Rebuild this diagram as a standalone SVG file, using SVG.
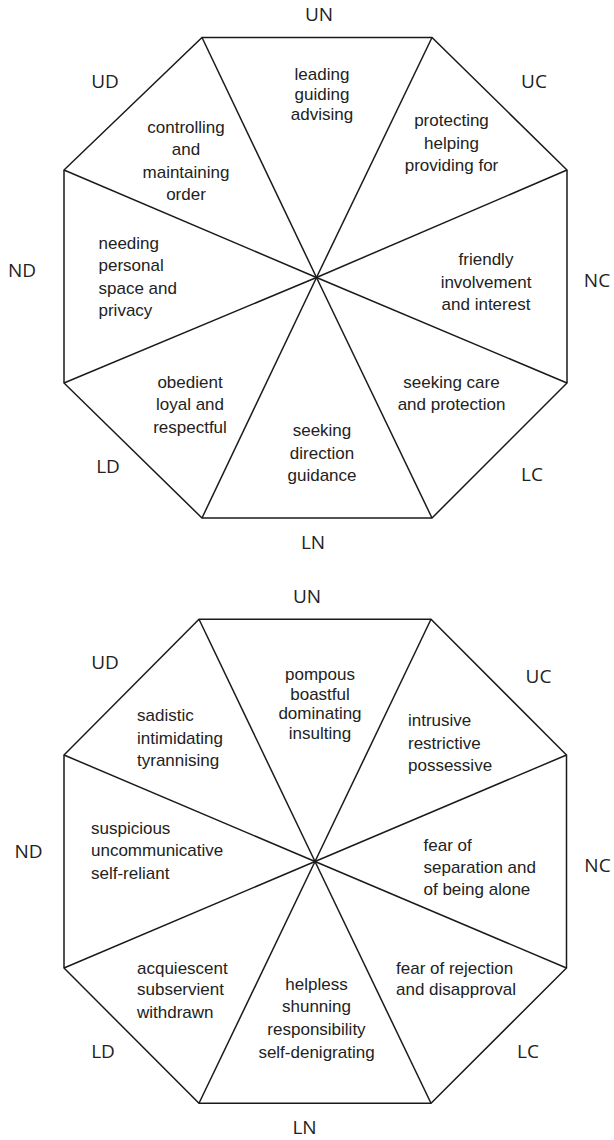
<svg xmlns="http://www.w3.org/2000/svg" width="614" height="1140" viewBox="0 0 614 1140">
<style>
.oct{fill:none;stroke:#1a1a1a;stroke-width:1.5;stroke-linejoin:miter}
.sp{stroke:#1a1a1a;stroke-width:1.5}
.t{font-family:"Liberation Sans",Arial,sans-serif;font-size:17px;fill:#222}
.c{text-anchor:middle}
.lb{font-family:"Open Sans","DejaVu Sans",sans-serif;font-size:19px;fill:#222;text-anchor:middle}
</style>
<rect width="614" height="1140" fill="#fff"/>
<g id="octagon-top">
<polygon class="oct" points="202,37.5 432,37.5 567,170 567,383 432,518 202,518 64,383 64,170"/>
</g>
<g id="connectors-top">
<line class="sp" x1="316.5" y1="277.5" x2="202" y2="37.5"/>
<line class="sp" x1="316.5" y1="277.5" x2="432" y2="37.5"/>
<line class="sp" x1="316.5" y1="277.5" x2="567" y2="170"/>
<line class="sp" x1="316.5" y1="277.5" x2="567" y2="383"/>
<line class="sp" x1="316.5" y1="277.5" x2="432" y2="518"/>
<line class="sp" x1="316.5" y1="277.5" x2="202" y2="518"/>
<line class="sp" x1="316.5" y1="277.5" x2="64" y2="383"/>
<line class="sp" x1="316.5" y1="277.5" x2="64" y2="170"/>
</g>
<g id="labels-top">
<text class="lb" x="319" y="21">UN</text>
<text class="lb" x="105" y="88">UD</text>
<text class="lb" x="534" y="88">UC</text>
<text class="lb" x="22" y="277">ND</text>
<text class="lb" x="597" y="287">NC</text>
<text class="lb" x="108" y="473">LD</text>
<text class="lb" x="532" y="481">LC</text>
<text class="lb" x="313" y="549">LN</text>
</g>
<g id="top-UN"><text class="t c" x="322"><tspan x="322" y="80">leading</tspan><tspan x="322" y="100">guiding</tspan><tspan x="322" y="119.5">advising</tspan></text></g>
<g id="top-UD"><text class="t c" x="186"><tspan x="186" y="132.5">controlling</tspan><tspan x="186" y="155">and</tspan><tspan x="186" y="177.5">maintaining</tspan><tspan x="186" y="200">order</tspan></text></g>
<g id="top-UC"><text class="t c" x="451.5"><tspan x="451.5" y="126">protecting</tspan><tspan x="451.5" y="148.5">helping</tspan><tspan x="451.5" y="171">providing for</tspan></text></g>
<g id="top-ND"><text class="t" x="98.5"><tspan x="98.5" y="248.5">needing</tspan><tspan x="98.5" y="271">personal</tspan><tspan x="98.5" y="293.5">space and</tspan><tspan x="98.5" y="316">privacy</tspan></text></g>
<g id="top-NC"><text class="t c" x="486"><tspan x="486" y="265">friendly</tspan><tspan x="486" y="287.5">involvement</tspan><tspan x="486" y="309.5">and interest</tspan></text></g>
<g id="top-LD"><text class="t c" x="190"><tspan x="190" y="388">obedient</tspan><tspan x="190" y="410">loyal and</tspan><tspan x="190" y="432.5">respectful</tspan></text></g>
<g id="top-LN"><text class="t c" x="322"><tspan x="322" y="435.5">seeking</tspan><tspan x="322" y="458.5">direction</tspan><tspan x="322" y="481">guidance</tspan></text></g>
<g id="top-LC"><text class="t c" x="451.5"><tspan x="451.5" y="388">seeking care</tspan><tspan x="451.5" y="410">and protection</tspan></text></g>

<g id="octagon-bottom">
<polygon class="oct" points="199,619.3 431,619.3 566.5,755 566.5,968 431,1103.3 199,1103.3 64,968 64,755"/>
</g>
<g id="connectors-bottom">
<line class="sp" x1="315" y1="861.5" x2="199" y2="619.3"/>
<line class="sp" x1="315" y1="861.5" x2="431" y2="619.3"/>
<line class="sp" x1="315" y1="861.5" x2="566.5" y2="755"/>
<line class="sp" x1="315" y1="861.5" x2="566.5" y2="968"/>
<line class="sp" x1="315" y1="861.5" x2="431" y2="1103.3"/>
<line class="sp" x1="315" y1="861.5" x2="199" y2="1103.3"/>
<line class="sp" x1="315" y1="861.5" x2="64" y2="968"/>
<line class="sp" x1="315" y1="861.5" x2="64" y2="755"/>
</g>
<g id="labels-bottom">
<text class="lb" x="307" y="603">UN</text>
<text class="lb" x="105" y="669">UD</text>
<text class="lb" x="538.5" y="683">UC</text>
<text class="lb" x="28.5" y="858">ND</text>
<text class="lb" x="597.5" y="872">NC</text>
<text class="lb" x="103" y="1058">LD</text>
<text class="lb" x="528" y="1058">LC</text>
<text class="lb" x="304.5" y="1134">LN</text>
</g>
<g id="bottom-UN"><text class="t c" x="320"><tspan x="320" y="679.5">pompous</tspan><tspan x="320" y="699.5">boastful</tspan><tspan x="320" y="719">dominating</tspan><tspan x="320" y="739">insulting</tspan></text></g>
<g id="bottom-UD"><text class="t" x="137"><tspan x="137" y="721">sadistic</tspan><tspan x="137" y="744">intimidating</tspan><tspan x="137" y="766">tyrannising</tspan></text></g>
<g id="bottom-UC"><text class="t" x="408"><tspan x="408" y="726">intrusive</tspan><tspan x="408" y="749">restrictive</tspan><tspan x="408" y="771">possessive</tspan></text></g>
<g id="bottom-ND"><text class="t" x="91"><tspan x="91" y="833.5">suspicious</tspan><tspan x="91" y="856">uncommunicative</tspan><tspan x="91" y="878.5">self-reliant</tspan></text></g>
<g id="bottom-NC"><text class="t" x="423.5"><tspan x="423.5" y="850.5">fear of</tspan><tspan x="423.5" y="872.5">separation and</tspan><tspan x="423.5" y="894.5">of being alone</tspan></text></g>
<g id="bottom-LD"><text class="t" x="137"><tspan x="137" y="973.5">acquiescent</tspan><tspan x="137" y="995">subservient</tspan><tspan x="137" y="1018">withdrawn</tspan></text></g>
<g id="bottom-LN"><text class="t c" x="316.5"><tspan x="316.5" y="990">helpless</tspan><tspan x="316.5" y="1012">shunning</tspan><tspan x="316.5" y="1035">responsibility</tspan><tspan x="316.5" y="1057.5">self-denigrating</tspan></text></g>
<g id="bottom-LC"><text class="t" x="396"><tspan x="396" y="973.5">fear of rejection</tspan><tspan x="396" y="995">and disapproval</tspan></text></g>
</svg>
